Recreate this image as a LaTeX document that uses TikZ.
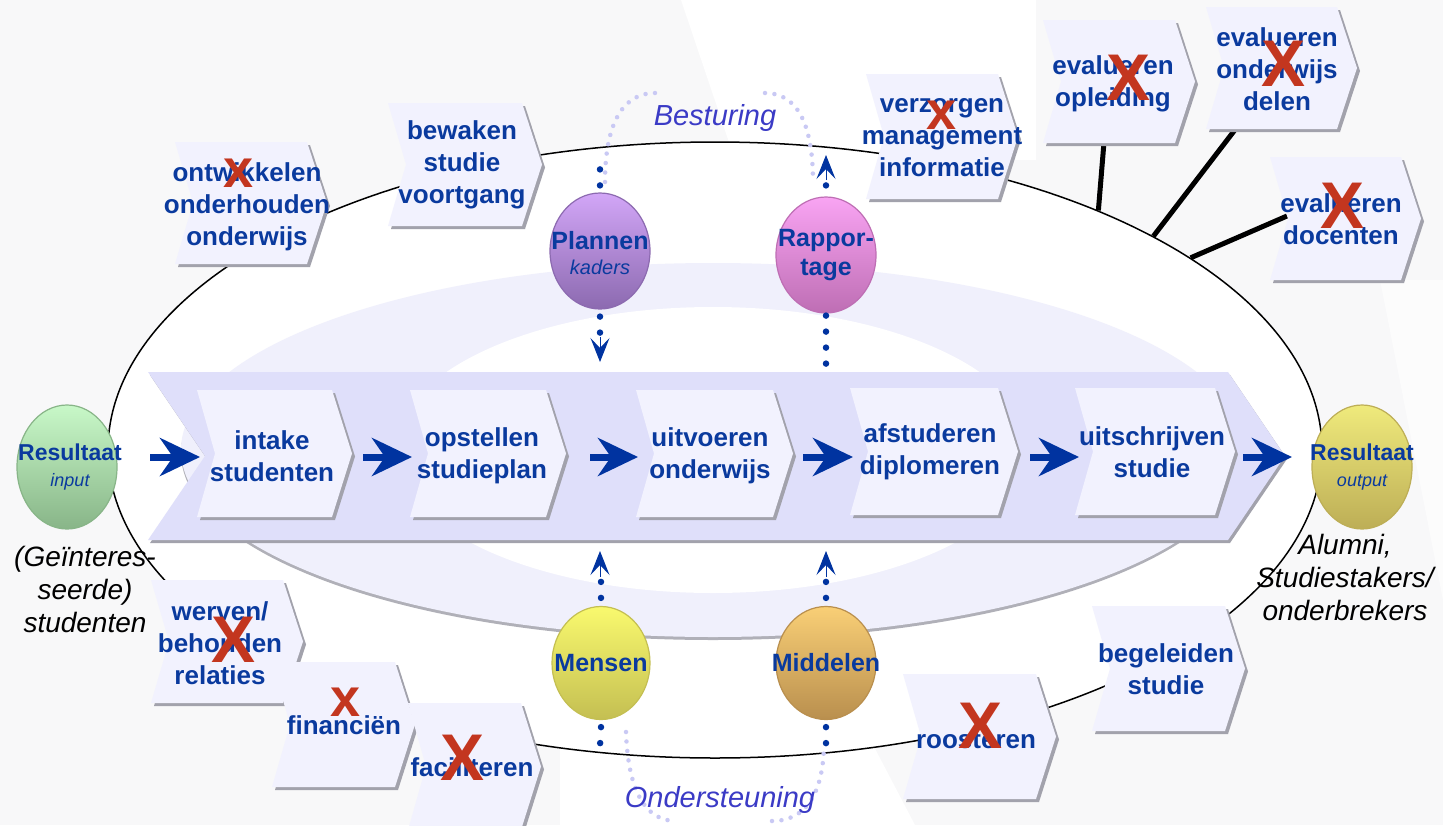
\documentclass[tikz,border=0pt]{standalone}
\usepackage{fontspec}
\setmainfont{Liberation Sans}
\usetikzlibrary{arrows.meta,shapes.geometric}
\definecolor{bgc}{HTML}{F8F8F9}
\definecolor{tblue}{HTML}{0A3A9E}
\definecolor{ablue}{HTML}{0033A0}
\definecolor{chevf}{HTML}{F2F2FE}
\definecolor{chevs}{HTML}{A2A2AC}
\definecolor{barf}{HTML}{DFDFFA}
\definecolor{ringf}{HTML}{F0F0FC}
\definecolor{lav}{HTML}{C9C9F4}
\definecolor{steer}{HTML}{3B3BC6}
\definecolor{xred}{HTML}{C3361F}
\definecolor{plL}{HTML}{D2A6F7}\definecolor{plD}{HTML}{8C6AB0}
\definecolor{raL}{HTML}{F9A4F3}\definecolor{raD}{HTML}{BE6EB4}
\definecolor{meL}{HTML}{F9F96E}\definecolor{meD}{HTML}{C4BF52}
\definecolor{miL}{HTML}{F9CF76}\definecolor{miD}{HTML}{B98F4E}
\definecolor{riL}{HTML}{C8F8C8}\definecolor{riD}{HTML}{88B588}
\definecolor{roL}{HTML}{EFEA7C}\definecolor{roD}{HTML}{BDAE56}
\tikzset{
  chevtext/.style={text=tblue, font=\bfseries\fontsize{26}{32}\selectfont, align=center, inner sep=0pt},
  chevfill/.style={fill=chevf},
  chevshadow/.style={fill=chevs},
  bigarrow/.style={draw=ablue, line width=7pt, -{Stealth[length=40pt,width=38pt,inset=13pt]}},
  bluedots/.style={draw=ablue, line width=6.5pt, line cap=round, dash pattern=on 0pt off 16pt},
  bluetip/.style={draw=ablue, line width=1pt, -{Stealth[length=24pt,width=19pt,inset=10pt]}},
  lavdots/.style={draw=lav, line width=4.5pt, line cap=round, dash pattern=on 0pt off 9.5pt},
  ballshape/.style={ellipse, minimum width=100pt, minimum height=116pt, inner sep=0pt, shading angle=45, line width=1.2pt},
  balltext/.style={text=tblue, font=\bfseries\fontsize{25}{29}\selectfont, align=center, inner sep=0pt},
  restext/.style={text=tblue, font=\bfseries\fontsize{23}{26}\selectfont, align=center, inner sep=0pt},
  bigx/.style={text=xred, font=\bfseries\fontsize{66}{66}\selectfont, inner sep=0pt},
  smallx/.style={text=xred, font=\bfseries\fontsize{54}{54}\selectfont, inner sep=0pt},
  sidetext/.style={text=black, font=\itshape\fontsize{28}{33}\selectfont, align=center, inner sep=0pt},
  steertext/.style={text=steer, font=\itshape\fontsize{29}{33}\selectfont, inner sep=0pt},
}
\newcommand\mychev[4]{%
  \fill[chevshadow,shift={(3,3)}] (#1,#2) -- ({#3-20},#2) -- (#3,{(#2+#4)/2}) -- ({#3-20},#4) -- (#1,#4) -- ({#1+18},{(#2+#4)/2}) -- cycle;
  \fill[chevfill] (#1,#2) -- ({#3-20},#2) -- (#3,{(#2+#4)/2}) -- ({#3-20},#4) -- (#1,#4) -- ({#1+18},{(#2+#4)/2}) -- cycle;
}
\begin{document}
\begin{tikzpicture}[x=1pt,y=-1pt]
\useasboundingbox (0,0) rectangle (1443,825);
\fill[bgc] (0,0) rectangle (1443,825);
\fill[white] (681,0) -- (1036,0) -- (1036,160) -- (735,160) -- cycle;
\fill[white] (560,720) -- (860,720) -- (915,825) -- (560,825) -- cycle;
\fill[white,opacity=0.6] (1380,280) -- (1443,280) -- (1443,600) -- cycle;

% outer loop
\node[draw, ellipse, fill=white, line width=1.5pt, minimum width=1214pt, minimum height=616pt, inner sep=0pt] (loop) at (715,450) {};

% ring
\fill[chevs!85] (713,453) ellipse [x radius=532, y radius=187];
\fill[ringf] (713,450) ellipse [x radius=532, y radius=187];
\fill[white] (713,450) ellipse [x radius=318, y radius=143];

% thick lines to evaluation chevrons
\coordinate (t1) at (1105,130);
\coordinate (t2) at (1244,118);
\coordinate (t3) at (1287,216);
\draw[line width=5pt] (loop.32) -- (t1);
\draw[line width=5pt] (loop.26) -- (t2);
\draw[line width=5pt] (loop.22) -- (t3);

% lavender dotted arcs
\draw[lavdots] (605,182) .. controls (605,120) and (625,93) .. (655,93);
\draw[lavdots] (765,93) .. controls (795,93) and (813,120) .. (813,182);
\draw[lavdots] (626,732) .. controls (628,790) and (645,821) .. (676,821);
\draw[lavdots] (772,821) .. controls (805,821) and (823,795) .. (824,745);
\node[steertext] (best) at (715,118) {Besturing};
\node[steertext] (onder) at (720,800) {Ondersteuning};

% main process bar
\fill[chevs, shift={(2,3)}] (148,372) -- (1228,372) -- (1285,456) -- (1228,540) -- (148,540) -- (205,456) -- cycle;
\fill[barf] (148,372) -- (1228,372) -- (1285,456) -- (1228,540) -- (148,540) -- (205,456) -- cycle;

\mychev{197}{390}{352}{517}
\mychev{410}{390}{566}{517}
\mychev{636}{390}{793}{517}
\mychev{850}{388}{1018}{515}
\mychev{1075}{388}{1235}{515}
\node[chevtext] (intake) at (272,456) {intake\\studenten};
\node[chevtext] (opst) at (482,456) {opstellen\\studieplan};
\node[chevtext] (uitv) at (710,456) {uitvoeren\\onderwijs};
\node[chevtext] (afst) at (930,452) {afstuderen\\diplomeren};
\node[chevtext] (uits) at (1152,452) {uitschrijven\\studie};

% peripheral chevrons
\mychev{175}{142}{327}{264}
\mychev{388}{103}{542}{226}
\mychev{866}{74}{1018}{199}
\mychev{1043}{20}{1195}{143}
\mychev{1206}{7}{1357}{129}
\mychev{1270}{157}{1421}{280}
\mychev{151}{580}{303}{703}
\mychev{272}{662}{415}{787}
\mychev{408}{703}{541}{830}
\mychev{903}{674}{1056}{799}
\mychev{1092}{606}{1245}{731}
\node[chevtext] (ontw) at (247,207) {ontwikkelen\\onderhouden\\onderwijs};
\node[chevtext] (bewa) at (462,165) {bewaken\\studie\\voortgang};
\node[chevtext] (verz) at (942,138) {verzorgen\\management\\informatie};
\node[chevtext] (evop) at (1113,84) {evalueren\\opleiding};
\node[chevtext] (evod) at (1277,69) {evalueren\\onderwijs\\delen};
\node[chevtext] (evdo) at (1341,219) {evalueren\\docenten};
\node[chevtext] (werv) at (220,643) {werven/\\behouden\\relaties};
\node[chevtext] (fina) at (344,725) {financiën};
\node[chevtext] (faci) at (472,767) {faciliteren};
\node[chevtext] (roos) at (976,740) {roosteren};
\node[chevtext] (bege) at (1166,669) {begeleiden\\studie};

% balls
\node[ballshape, top color=plL, bottom color=plD, draw=plD] (plannen) at (600,251) {};
\node[balltext] (plannenT) at (600,253) {Plannen\\[-4pt]{\mdseries\itshape\fontsize{20}{22}\selectfont kaders}};
\node[ballshape, top color=raL, bottom color=raD, draw=raD] (rapp) at (826,255) {};
\node[balltext] (rappT) at (rapp) {Rappor-\\tage};
\node[ballshape, minimum width=98pt, minimum height=113pt, top color=meL, bottom color=meD, draw=meD] (mensen) at (601,663) {};
\node[balltext] (mensenT) at (mensen) {Mensen};
\node[ballshape, minimum height=113pt, top color=miL, bottom color=miD, draw=miD] (midd) at (826,663) {};
\node[balltext] (middT) at (midd) {Middelen};
\node[ballshape, minimum height=124pt, top color=riL, bottom color=riD, draw=riD] (resin) at (67,467) {};
\node[restext] (resinT) at (70,467) {Resultaat\\{\mdseries\itshape\fontsize{18}{22}\selectfont input}};
\node[ballshape, minimum height=124pt, top color=roL, bottom color=roD, draw=roD] (resout) at (1362,467) {};
\node[restext] (resoutT) at (1362,467) {Resultaat\\{\mdseries\itshape\fontsize{18}{22}\selectfont output}};

% dark blue dotted arrows
\coordinate (pu) at (600,165);
\draw[bluedots] ([yshift=7pt]plannen.north) -- (pu);
\coordinate (pd) at (600,334);
\draw[bluedots] ([yshift=-7pt]plannen.south) -- (pd);
\coordinate (pdt) at (600,362);
\draw[bluetip] (600,337) -- (pdt);
\coordinate (ru) at (826,155);
\draw[bluedots] ([yshift=11pt]rapp.north) -- ++(0,-4);
\draw[bluetip] (826,180) -- (ru);
\coordinate (rd) at (826,364);
\draw[bluedots] ([yshift=-2pt]rapp.south) -- (rd);
\coordinate (mu) at (600,551);
\draw[bluedots] ([yshift=8pt]mensen.north) -- ++(0,-18);
\draw[bluetip] (600,577) -- (mu);
\coordinate (md) at (600,746);
\draw[bluedots] ([yshift=-7pt]mensen.south) -- (md);
\coordinate (iu) at (826,551);
\draw[bluedots] ([yshift=8pt]midd.north) -- ++(0,-18);
\draw[bluetip] (826,577) -- (iu);
\coordinate (id) at (826,746);
\draw[bluedots] ([yshift=-7pt]midd.south) -- (id);

% big blue arrows
\foreach \a/\b [count=\i] in {150/200,363/412,590/638,803/853,1030/1079,1243/1292}{
  \coordinate (as\i) at (\a,457);
  \coordinate (ae\i) at (\b,457);
  \draw[bigarrow] (as\i) -- (ae\i);
}

% red crosses
\node[smallx] (x1) at (239,173) {x};
\node[smallx] (x2) at (942,115) {x};
\node[bigx] (x3) at (1128,78) {X};
\node[bigx] (x4) at (1283,64) {X};
\node[bigx] (x5) at (1342,206) {X};
\node[bigx] (x6) at (234,640) {X};
\node[smallx] (x7) at (346,702) {x};
\node[bigx] (x8) at (463,758) {X};
\node[bigx] (x9) at (980,726) {X};

% side texts
\node[sidetext] (instud) at (85,589) {(Geïnteres-\\seerde)\\studenten};
\node[sidetext] (alumni) at (1345,577) {Alumni,\\Studiestakers/\\onderbrekers};
\end{tikzpicture}
\end{document}
